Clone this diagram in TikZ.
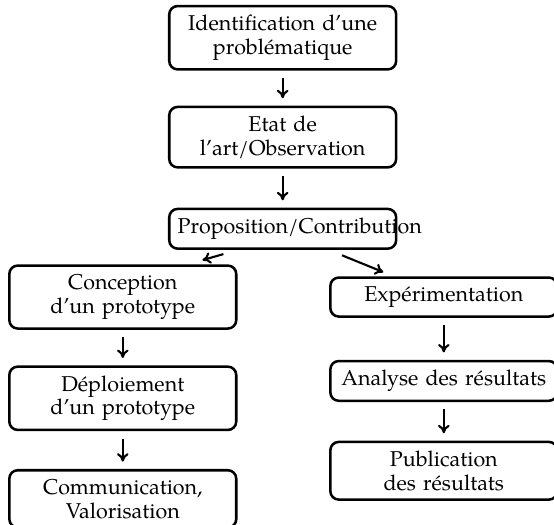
\documentclass[tikz,border=0pt]{standalone}
\usepackage{fontspec}
\setmainfont{TeX Gyre Pagella}
\usetikzlibrary{arrows.meta}

\begin{document}
\begin{tikzpicture}[
    etape/.style={draw, very thick, rounded corners=4pt, fill=white,
                  text width=99.8pt, inner xsep=4pt, inner ysep=4.3pt,
                  align=center, font=\fontsize{10.2}{11.2}\selectfont},
    down/.style={-{To[length=4pt,width=5.5pt]}, line width=1pt,
                 shorten <=3.5pt, shorten >=3.5pt},
    diag/.style={-{To[length=4pt,width=5.5pt]}, line width=1pt},
]
\useasboundingbox (0,0) rectangle (9.25,8.75);

% Central chain
\node[etape] (ident) at (4.72, 8.12) {Identification d’une\\problématique};
\node[etape] (etat)  at (4.72, 6.46) {Etat de\\l’art/Observation};
\node[etape] (prop)  at (4.72, 4.93) {Proposition/Contribution};

% Left branch: prototype
\node[etape] (concep) at (2.05, 3.79) {Conception\\d’un prototype};
\node[etape] (deploi) at (2.05, 2.10) {Déploiement\\d’un prototype};
\node[etape] (comm)   at (2.05, 0.42) {Communication,\\Valorisation};

% Right branch: experimentation
\node[etape] (exper) at (7.41, 3.79) {Expérimentation};
\node[etape] (anal)  at (7.41, 2.39) {Analyse des résultats};
\node[etape] (publi) at (7.41, 0.89) {Publication\\des résultats};

% Vertical flow
\foreach \a/\b in {ident/etat, etat/prop, concep/deploi, deploi/comm,
                   exper/anal, anal/publi}
    \draw[down] (\a) -- (\b);

% Split towards both branches
\draw[diag] ([xshift=-0.99cm,yshift=-0.07cm]prop.south)
    -- ([xshift=1.33cm,yshift=0.07cm]concep.north);
\draw[diag] ([xshift=0.99cm,yshift=-0.09cm]prop.south)
    -- ([xshift=-1.01cm,yshift=0.07cm]exper.north);

\end{tikzpicture}
\end{document}
